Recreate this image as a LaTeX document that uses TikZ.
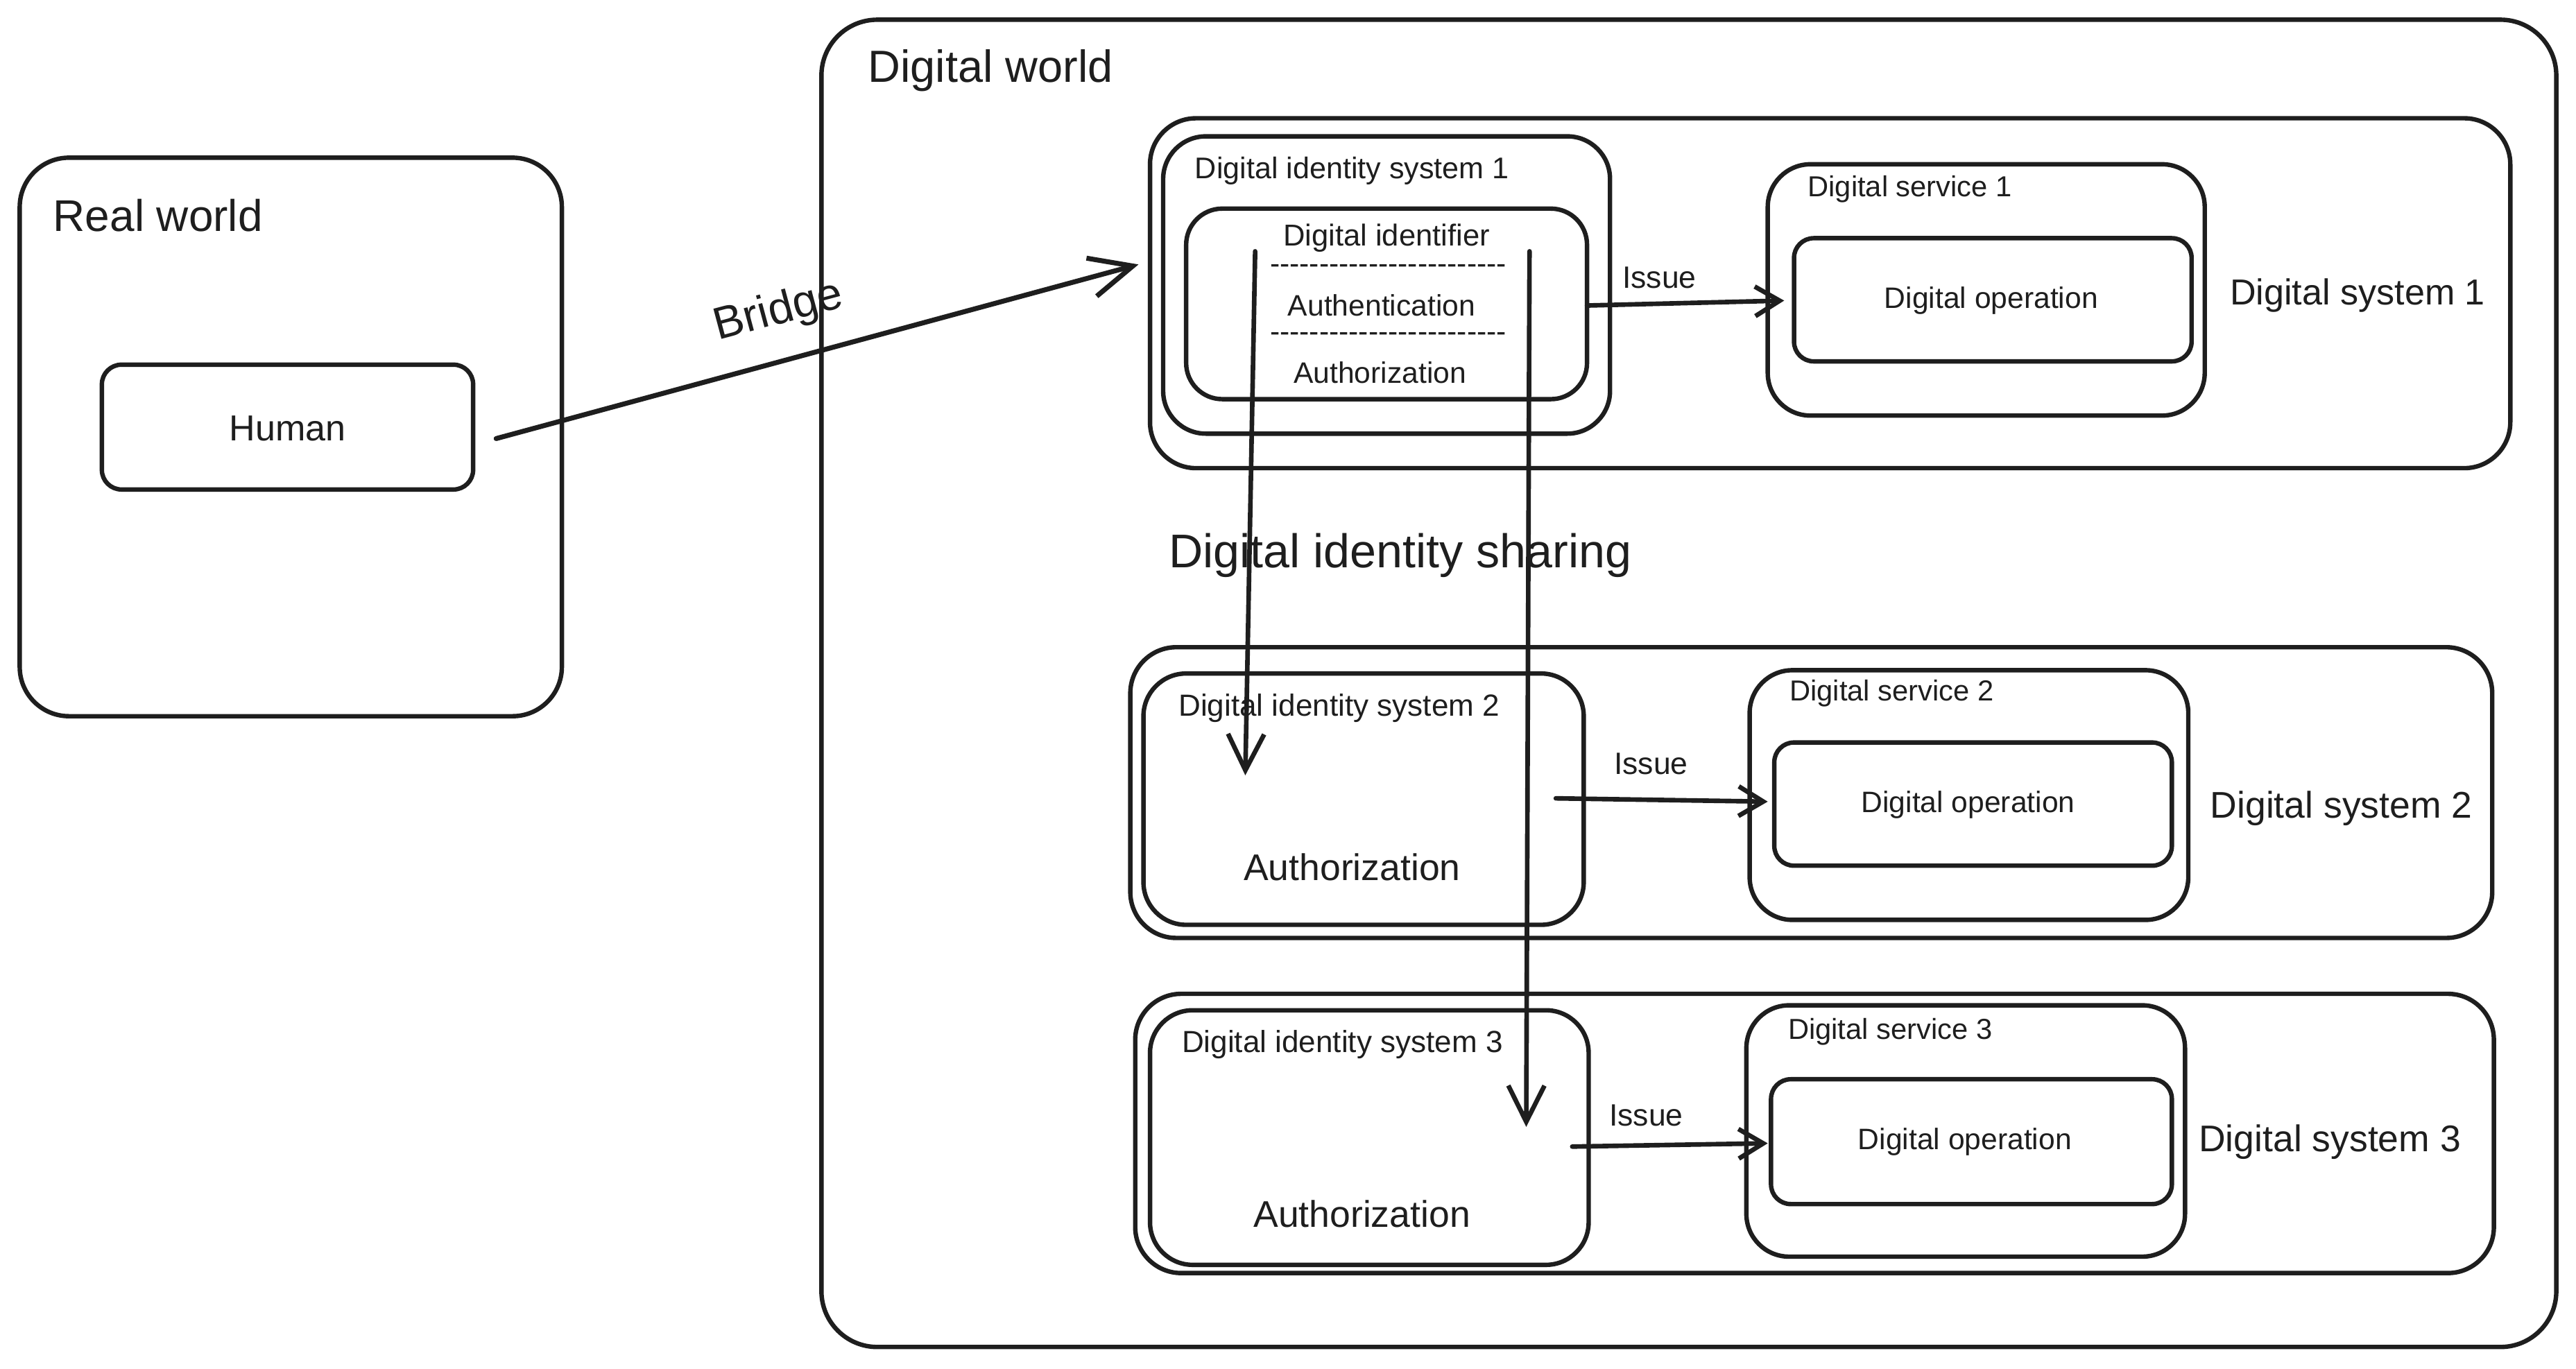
\documentclass[tikz,border=0pt]{standalone}
\usepackage{fontspec}
\setmainfont{Liberation Sans}
\usetikzlibrary{arrows.meta}
\definecolor{ink}{HTML}{1E1E1E}
\newcommand\dd{-\kern0pt}
\newcommand\dashrow{\dd\dd\dd\dd\dd\dd\dd\dd\dd\dd\dd\dd\dd\dd\dd\dd\dd\dd\dd\dd\dd\dd\dd\dd}
\newcommand\fs[1]{\fontsize{#1}{#1}\selectfont}
\tikzset{
  rbox/.style={draw=ink, line width=1.35pt, inner sep=0pt, rectangle},
  lbl/.style={inner sep=0pt, text=ink},
  arr/.style={draw=ink, line width=1.4pt, line cap=round, -{Straight Barb[length=7.5pt,width=9pt,line width=1.4pt]}},
  bigarr/.style={draw=ink, line width=1.4pt, line cap=round, -{Straight Barb[length=11pt,width=11pt,line width=1.4pt]}},
}
\begin{document}
\begin{tikzpicture}[x=0.5pt,y=-0.5pt]
\useasboundingbox[fill=white] (0,0) rectangle (1568,833);

% outer containers
\node[rbox, rounded corners=15pt, minimum width=165pt, minimum height=170pt] (real) at (177,266) {};
\node[rbox, rounded corners=17pt, minimum width=528pt, minimum height=404pt] (dworld) at (1028,416) {};

\node[lbl, anchor=west, font=\fs{13.5}] (realL) at (32,131) {Real world};
\node[lbl, anchor=west, font=\fs{13.7}] (dworldL) at (528,43) {Digital world};

% human
\node[rbox, rounded corners=6pt, minimum width=113pt, minimum height=38pt] (human) at (175,260) {};
\node[lbl, font=\fs{11}] (humanL) at (175,261) {Human};

% digital system 1
\node[rbox, rounded corners=14pt, minimum width=414pt, minimum height=106.5pt] (ds1) at (1114,178.5) {};
\node[rbox, rounded corners=13pt, minimum width=136pt, minimum height=90.5pt] (dis1) at (844,173.5) {};
\node[rbox, rounded corners=11pt, minimum width=122pt, minimum height=58pt] (ident) at (844,185) {};
\node[rbox, rounded corners=13pt, minimum width=133pt, minimum height=76.5pt] (svc1) at (1209,176.5) {};
\node[rbox, rounded corners=6pt, minimum width=121pt, minimum height=37.5pt] (op1) at (1213,182.5) {};

\node[lbl, anchor=west, font=\fs{9.1}] (dis1L) at (727,104) {Digital identity system 1};
\node[lbl, font=\fs{9.2}] (identL) at (844,145) {Digital identifier};
\node[lbl, font=\fs{9}] (dashA) at (845,164) {\dashrow};
\node[lbl, font=\fs{9}] (authnL) at (841,186) {Authentication};
\node[lbl, font=\fs{9}] (dashB) at (845,205) {\dashrow};
\node[lbl, font=\fs{9}] (authzL1) at (840,227) {Authorization};
\node[lbl, anchor=west, font=\fs{8.8}] (svc1L) at (1100,115) {Digital service 1};
\node[lbl, font=\fs{9}] (op1L) at (1212,183) {Digital operation};
\node[lbl, anchor=west, font=\fs{11}] (ds1L) at (1357,180) {Digital system 1};

% digital system 2
\node[rbox, rounded corners=14pt, minimum width=414.5pt, minimum height=88.5pt] (ds2) at (1102.5,482.5) {};
\node[rbox, rounded corners=13pt, minimum width=134pt, minimum height=76.5pt] (dis2) at (830,486.5) {};
\node[rbox, rounded corners=13pt, minimum width=133.5pt, minimum height=76pt] (svc2) at (1198.5,484) {};
\node[rbox, rounded corners=6pt, minimum width=121pt, minimum height=37.5pt] (op2) at (1201,489.5) {};

\node[lbl, anchor=west, font=\fs{9.3}] (dis2L) at (717,431) {Digital identity system 2};
\node[lbl, font=\fs{11.3}] (authzL2) at (823,528) {Authorization};
\node[lbl, anchor=west, font=\fs{8.8}] (svc2L) at (1089,422) {Digital service 2};
\node[lbl, font=\fs{9}] (op2L) at (1198,490) {Digital operation};
\node[lbl, anchor=west, font=\fs{11.3}] (ds2L) at (1345,492) {Digital system 2};

% digital system 3
\node[rbox, rounded corners=14pt, minimum width=413.5pt, minimum height=85pt] (ds3) at (1104.5,690) {};
\node[rbox, rounded corners=13pt, minimum width=133.5pt, minimum height=77.5pt] (dis3) at (833.5,692.5) {};
\node[rbox, rounded corners=13pt, minimum width=133.5pt, minimum height=76.5pt] (svc3) at (1196.5,688.5) {};
\node[rbox, rounded corners=6pt, minimum width=122pt, minimum height=38pt] (op3) at (1200,695) {};

\node[lbl, anchor=west, font=\fs{9.3}] (dis3L) at (719,636) {Digital identity system 3};
\node[lbl, font=\fs{11.3}] (authzL3) at (829,739) {Authorization};
\node[lbl, anchor=west, font=\fs{8.8}] (svc3L) at (1088,628) {Digital service 3};
\node[lbl, font=\fs{9}] (op3L) at (1196,695) {Digital operation};
\node[lbl, anchor=west, font=\fs{11.3}] (ds3L) at (1338,695) {Digital system 3};

% free texts
\node[lbl, anchor=west, font=\fs{14.4}] (shareL) at (711,338) {Digital identity sharing};
\node[lbl, font=\fs{13.8}, rotate=15] (bridgeL) at (474,190) {Bridge};
\node[lbl, font=\fs{9.4}] (issue1L) at (1010,169) {Issue};
\node[lbl, font=\fs{9.4}] (issue2L) at (1005,465) {Issue};
\node[lbl, font=\fs{9.4}] (issue3L) at (1002,679) {Issue};

% connector end points
\coordinate (bS) at (302,267);
\coordinate (bE) at (693,161);
\coordinate (i1S) at (966,186);
\coordinate (i1E) at (1086,183);
\coordinate (i2S) at (947,486);
\coordinate (i2E) at (1076,488);
\coordinate (i3S) at (957,698);
\coordinate (i3E) at (1076,696);
\coordinate (sAS) at (764,153);
\coordinate (sAE) at (758,472);
\coordinate (sBS) at (931,153);
\coordinate (sBE) at (929,686);

% connectors
\draw[draw=ink, line width=1.5pt, line cap=round, -{Straight Barb[length=13pt,width=12pt,line width=1.5pt]}] (bS) -- (bE);
\draw[arr] (i1S) -- (i1E);
\draw[arr] (i2S) -- (i2E);
\draw[arr] (i3S) -- (i3E);
\draw[bigarr] (sAS) -- (sAE);
\draw[bigarr] (sBS) -- (sBE);
\end{tikzpicture}
\end{document}
